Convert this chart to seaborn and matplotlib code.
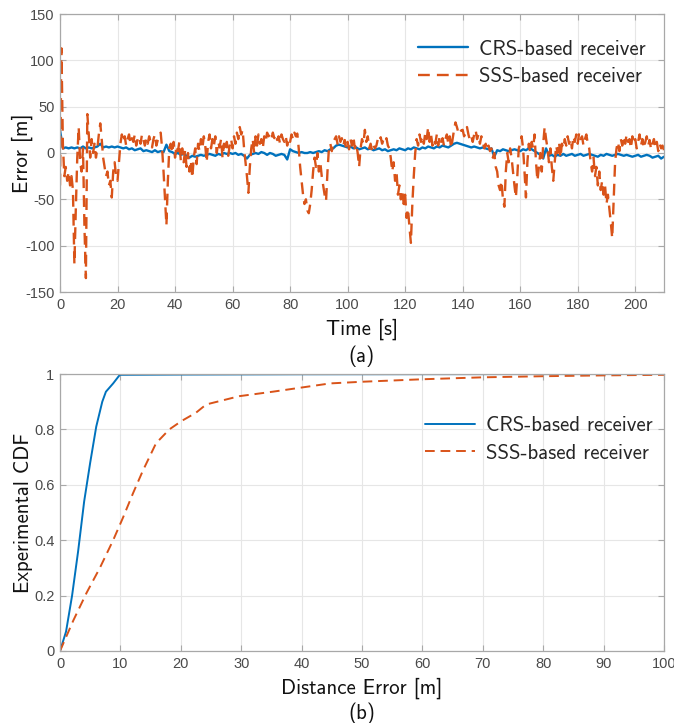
import numpy as np
import pandas as pd
import matplotlib
matplotlib.use("Agg")
import matplotlib.pyplot as plt
import seaborn as sns

# ---------------- data ----------------
# (a) time series, SSS sampled every 0.5 s, CRS every 1 s
sss_t_step = 0.5
sss_err = [
    # 0-10
    -35, 113, 10, -25, -15, -30, -20, -35, -25, -40, -120, -60, -5, 28, -10, -20, 5, -80, -135, 42,
    # 10-20
    20, -5, 15, 0, 10, -5, 5, 20, 32, 15, -5, -15, -25, -20, -35, -30, -48, -20, -10, -25,
    # 20-30
    -30, -10, 10, 20, 12, 18, 8, 15, 20, 10, 16, 12, 20, 8, 15, 18, 10, 20, 14, 8,
    # 30-40
    16, 10, 18, 12, 6, 15, 20, 8, 14, 18, 22, 5, -20, -50, -78, -30, 5, 10, 0, 12,
    # 40-50
    -5, 8, 2, 12, -8, 5, -10, 3, -15, 0, -20, -8, -27, -5, 5, -12, 10, 2, 15, 5,
    # 50-60
    18, 8, -10, 12, 20, 5, 15, 8, 18, 0, 12, 6, 15, -5, 10, 2, 12, -3, 8, 15,
    # 60-70
    5, 18, 10, 22, 15, 28, 20, 25, 5, -10, -25, -43, -15, 5, 15, 0, 18, 8, 20, 10,
    # 70-80
    15, 5, 18, 12, 22, 18, 20, 15, 22, 16, 20, 14, 18, 10, 20, 15, 12, 18, 8, 16,
    # 80-90
    12, 20, 15, 22, 18, 21, 5, -15, -30, -45, -55, -50, -62, -65, -55, -40, -20, -5, -15, 0,
    # 90-100
    -20, -10, -25, -35, -45, -52, -20, 5, 10, 2, 12, 15, 18, 10, 18, 12, 16, 8, 14, 5,
    # 100-110
    12, 4, 15, 8, 18, 5, 10, 0, -15, 5, 15, 10, 25, 12, 18, 5, 10, 2, 8, 5,
    # 110-120
    8, 15, 12, 17, 10, 15, 12, 16, 8, 5, -5, -20, -10, -30, -20, -45, -35, -50, -40, -55,
    # 120-130
    -45, -70, -60, -80, -97, -55, -25, 0, 15, 8, 20, 12, 18, 10, 22, 15, 28, 12, 20, 8,
    # 130-140
    15, 10, 20, 8, 18, 12, 16, 8, 15, 20, 10, 18, 5, 15, 25, 33, 28, 22, 26, 24,
    # 140-150
    25, 18, 22, 28, 20, 14, 18, 12, 20, 25, 15, 20, 10, 18, 12, 5, 10, 3, 8, 2,
    # 150-160
    5, -5, 0, -15, -20, -35, -40, -30, -50, -58, -20, 0, -10, 5, -5, -20, -35, -48, -25, 5,
    # 160-170
    10, 18, 5, -20, -48, -10, 10, 0, 12, 5, 20, -10, -30, -15, 0, -20, 10, 28, 15, 5,
    # 170-180
    -10, 5, -15, -30, -10, 8, 0, 12, -5, 10, 5, 15, 8, 18, 10, 15, 5, 18, 12, 20,
    # 180-190
    10, 22, 15, 18, 8, 15, 20, 10, 5, -10, -20, -5, -25, -15, -35, -20, -40, -30, -45, -35,
    # 190-200
    -55, -45, -60, -75, -92, -50, -10, 5, 12, 2, 15, 8, 18, 10, 20, 12, 15, 5, 18, 10,
    # 200-210
    15, 5, 12, 20, 8, 15, 5, 12, 18, 8, 14, 4, 10, 15, 6, 12, 2, 10, 5, 8, 3,
]
crs_t_step = 1.0
crs_err = [
    25, 5, 6, 5, 6, 5, 6, 5, 7, 5,
    6, 5, 6, 7, 10, 6, 7, 6, 7, 6,
    7, 6, 5, 6, 4, 5, 3, 4, 5, 2,
    3, 2, 1, 3, 1, 2, 1, 9, 2, 1,
    -1, 0, -2, -1, -3, -5, -3, -4, -3, -2,
    -3, -2, -1, -2, -3, -1, -2, 0, -1, 0,
    -1, 0, -2, -1, -3, -6, -2, -1, 0, -1,
    1, 0, -2, 0, -1, -3, -2, -1, -2, -7,
    4, 2, 1, 0, 1, 0, 0, 1, 0, 1,
    2, 1, 3, 2, 4, 5, 8, 9, 8, 7,
    6, 7, 5, 6, 4, 5, 6, 4, 5, 3,
    4, 5, 3, 4, 2, 3, 4, 3, 5, 4,
    3, 5, 4, 6, 5, 4, 6, 5, 7, 6,
    5, 7, 6, 8, 7, 6, 8, 10, 11, 10,
    9, 8, 7, 6, 7, 6, 5, 6, 5, 4,
    5, -4, 3, 2, 4, 3, 2, 3, 4, 3,
    2, 4, 3, 5, 4, 2, 0, -2, -6, 5,
    -3, -2, -4, -2, -3, -1, -3, -2, -1, -3,
    -2, -1, -3, -2, -1, -2, -3, -4, -2, -3,
    -1, -2, -3, -2, -1, -2, -3, -2, -3, -4,
    -3, -2, -4, -3, -2, -3, -5, -4, -3, -6,
    -4,
]

# (b) experimental CDF
crs_cdf_x = [0, 1, 2, 3, 4, 5, 6, 7, 7.6, 8.8, 9.9, 20, 40, 100]
crs_cdf_y = [0, 0.07, 0.2, 0.36, 0.54, 0.68, 0.81, 0.9, 0.936, 0.966, 0.997, 0.998, 0.999, 1.0]
sss_cdf_x = [0, 2.2, 4.4, 6.6, 8.8, 10.4, 12.1, 13.7, 15.9, 18.1, 20.1, 22.5, 24.2, 29.7,
             35.2, 44.7, 50, 60, 70, 80, 90, 100]
sss_cdf_y = [0, 0.11, 0.21, 0.30, 0.40, 0.48, 0.57, 0.65, 0.75, 0.80, 0.83, 0.86, 0.89, 0.92,
             0.936, 0.966, 0.972, 0.981, 0.988, 0.992, 0.995, 0.997]

labels = ["CRS-based receiver", "SSS-based receiver"]
time_ticks = list(range(0, 201, 20))
err_ticks = [-150, -100, -50, 0, 50, 100, 150]
dist_ticks = list(range(0, 101, 10))
cdf_ticks = [0, 0.2, 0.4, 0.6, 0.8, 1]

# ---------------- styling ----------------
sns.set_theme(style="white")
plt.rcParams["font.family"] = ["cmss10", "DejaVu Sans"]
plt.rcParams["axes.unicode_minus"] = False
plt.rcParams["mathtext.fontset"] = "cm"

BLUE = "#0072BD"
ORANGE = "#D95319"
GRID = "#e6e6e6"
SPINE = "#a8a8a8"
TICKC = "#4a4a4a"
TICKFONT = dict(family="Liberation Sans", size=10.5, color=TICKC)

df_a = pd.concat([
    pd.DataFrame({"t": np.arange(len(crs_err)) * crs_t_step, "err": crs_err, "rx": labels[0]}),
    pd.DataFrame({"t": np.arange(len(sss_err)) * sss_t_step, "err": sss_err, "rx": labels[1]}),
], ignore_index=True)
df_b = pd.concat([
    pd.DataFrame({"d": crs_cdf_x, "cdf": crs_cdf_y, "rx": labels[0]}),
    pd.DataFrame({"d": sss_cdf_x, "cdf": sss_cdf_y, "rx": labels[1]}),
], ignore_index=True)

fig = plt.figure(figsize=(6.74, 7.23), dpi=100)
ax1 = fig.add_axes([60 / 674, 1 - 292 / 723, 604 / 674, 278 / 723])
ax2 = fig.add_axes([60 / 674, 1 - 651 / 723, 604 / 674, 277 / 723])

palette = {labels[0]: BLUE, labels[1]: ORANGE}
dashes = {labels[0]: "", labels[1]: (5, 3)}

sns.lineplot(data=df_a, x="t", y="err", hue="rx", style="rx", palette=palette,
             dashes=dashes, estimator=None, linewidth=1.7, ax=ax1, legend=True)
sns.lineplot(data=df_b, x="d", y="cdf", hue="rx", style="rx", palette=palette,
             dashes=dashes, estimator=None, linewidth=1.4, ax=ax2, legend=True)


def style_axes(ax, xticks, yticks, xlim, ylim, xlabel, ylabel, yfmt=None):
    ax.set_xlim(*xlim)
    ax.set_ylim(*ylim)
    ax.set_xticks(xticks)
    ax.set_yticks(yticks)
    ax.set_xticklabels([str(v) for v in xticks], **TICKFONT)
    if yfmt is None:
        ax.set_yticklabels([str(v) for v in yticks], **TICKFONT)
    else:
        ax.set_yticklabels([yfmt(v) for v in yticks], **TICKFONT)
    ax.grid(True, color=GRID, linewidth=0.8)
    ax.set_axisbelow(True)
    for s in ax.spines.values():
        s.set_color(SPINE)
        s.set_linewidth(0.9)
    ax.tick_params(direction="in", length=4, width=0.8, color=SPINE,
                   top=True, right=True, bottom=True, left=True, pad=4)
    ax.set_xlabel(xlabel, fontsize=15, labelpad=5, color="#111111")
    ax.set_ylabel(ylabel, fontsize=15, color="#111111")
    ax.yaxis.set_label_coords((33 - 60) / 604, 0.5)
    leg = ax.get_legend()
    if leg is not None:
        leg.remove()


style_axes(ax1, time_ticks, err_ticks, (0, 210), (-150, 150), "Time [s]", "Error [m]")
style_axes(ax2, dist_ticks, cdf_ticks, (0, 100), (0, 1), "Distance Error [m]", "Experimental CDF",
           yfmt=lambda v: ("%g" % v))

ax1.legend(handles=ax1.get_lines()[:2], labels=labels, loc="upper right", frameon=False,
           fontsize=15, handlelength=2.4, handletextpad=0.5, labelspacing=0.4,
           bbox_to_anchor=(1.0, 0.975))
ax2.legend(handles=ax2.get_lines()[:2], labels=labels, loc="upper right", frameon=False,
           fontsize=15, handlelength=2.4, handletextpad=0.5, labelspacing=0.4,
           bbox_to_anchor=(1.012, 0.915))

fig.text(362 / 674, 1 - 356 / 723, "(a)", ha="center", va="center", fontsize=15, color="#111111")
fig.text(362 / 674, 1 - 713 / 723, "(b)", ha="center", va="center", fontsize=15, color="#111111")

fig.savefig("out.png", dpi=100)
